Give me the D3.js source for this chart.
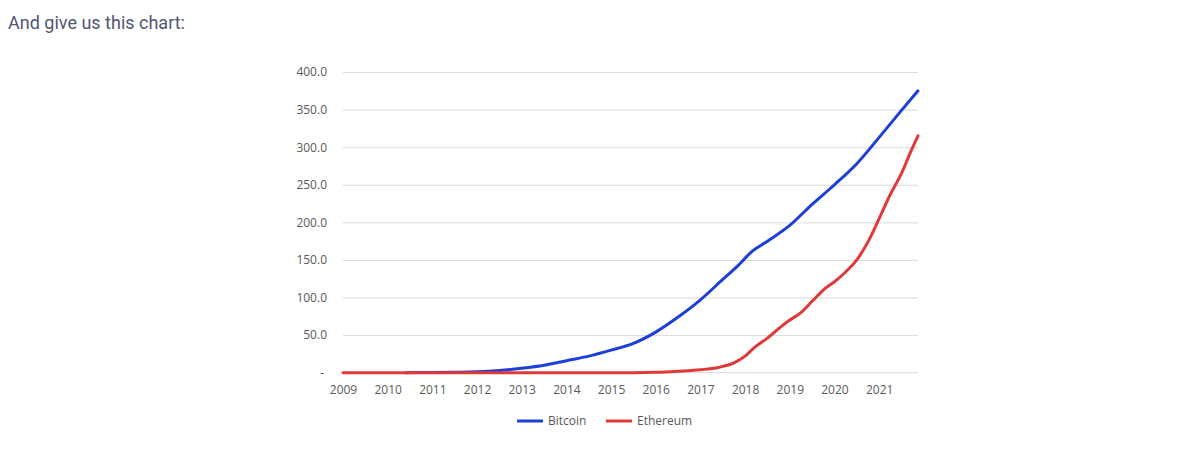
<!DOCTYPE html>
<html lang="en">
<head>
<meta charset="UTF-8">
<title>Bitcoin vs Ethereum</title>
<script src="https://d3js.org/d3.v7.min.js"></script>
<style>
body { margin: 0; background: #fff; }
.intro {
    position: absolute; left: 8px; top: 12px;
    font-family: Roboto, sans-serif; font-size: 18px; color: #505671;
}
.axis text { font-family: "Open Sans", sans-serif; font-size: 12px; fill: #595959; }
.axis path, .axis line { display: none; }
.grid line { stroke: #d9d9d9; stroke-width: 1; }
.grid path { display: none; }
.legend text { font-family: "Open Sans", sans-serif; font-size: 12px; fill: #595959; }
</style>
</head>
<body>
<div class="intro">And give us this chart:</div>
<script>
// years and cumulative values
var years = [2009, 2010, 2011, 2012, 2013, 2014, 2015, 2016, 2017, 2018, 2019, 2020, 2021];
var yTicks = [0, 50, 100, 150, 200, 250, 300, 350, 400];

var btcT = [2010.4, 2011, 2011.5, 2012, 2012.5, 2013, 2013.5, 2014, 2014.5, 2015, 2015.5, 2016, 2016.5, 2017, 2017.5, 2017.8, 2018.15, 2018.5, 2019, 2019.5, 2020, 2020.5, 2021, 2021.5, 2021.87];
var btcV = [0, 0.3, 0.6, 1.2, 3, 6, 10, 16, 22, 30, 39, 54, 74, 97, 124, 140, 161, 175, 196, 224, 250, 278, 313, 349, 375];

var ethT = [2009, 2012, 2015.5, 2016, 2016.5, 2017, 2017.4, 2017.75, 2018, 2018.2, 2018.5, 2018.8, 2019, 2019.25, 2019.5, 2019.75, 2020, 2020.25, 2020.5, 2020.75, 2021, 2021.25, 2021.5, 2021.7, 2021.87];
var ethV = [0, 0, 0, 0.5, 2, 4, 7, 13, 22, 33, 46, 61, 70, 80, 95, 110, 121, 134, 150, 174, 205, 237, 265, 293, 315];

var width = 1180, height = 460;
var svg = d3.select('body').append('svg')
    .attr('width', width).attr('height', height)
    .style('position', 'absolute').style('left', 0).style('top', 0);

var x = d3.scaleLinear().domain([2009, 2021.87]).range([343, 918]);
var y = d3.scaleLinear().domain([0, 400]).range([372.7, 72]);

// gridlines
svg.append('g').attr('class', 'grid')
    .attr('transform', 'translate(343,0)')
    .call(d3.axisLeft(y).tickValues(yTicks.slice(1)).tickSize(-575).tickFormat(''));
// baseline
svg.append('line')
    .attr('x1', 343).attr('x2', 918).attr('y1', y(0)).attr('y2', y(0))
    .attr('stroke', '#d9d9d9');

// y axis labels
svg.append('g').attr('class', 'axis')
    .attr('transform', 'translate(335,0)')
    .call(d3.axisLeft(y).tickValues(yTicks).tickSize(0).tickPadding(8)
        .tickFormat(function(d){ return d === 0 ? '-' : d3.format('.1f')(d); }))
    .selectAll('text')
    .attr('dx', function(d){ return d === 0 ? -3 : 0; });

// x axis labels
svg.append('g').attr('class', 'axis')
    .attr('transform', 'translate(0,' + y(0) + ')')
    .call(d3.axisBottom(x).tickValues(years).tickSize(0).tickPadding(13).tickFormat(d3.format('d')));

var line = d3.line()
    .x(function(d){ return x(d[0]); })
    .y(function(d){ return y(d[1]); })
    .curve(d3.curveMonotoneX);

svg.append('path')
    .datum(d3.zip(btcT, btcV))
    .attr('d', line)
    .attr('fill', 'none').attr('stroke', '#1c3fd8').attr('stroke-width', 3)
    .attr('stroke-linecap', 'round');

svg.append('path')
    .datum(d3.zip(ethT, ethV))
    .attr('d', line)
    .attr('fill', 'none').attr('stroke', '#e0393a').attr('stroke-width', 3)
    .attr('stroke-linecap', 'round');

// legend
var legend = svg.append('g').attr('class', 'legend');
var items = [
    {name: 'Bitcoin', color: '#1c3fd8', x: 517},
    {name: 'Ethereum', color: '#e0393a', x: 606}
];
items.forEach(function(it){
    legend.append('line')
        .attr('x1', it.x).attr('x2', it.x + 26)
        .attr('y1', 421).attr('y2', 421)
        .attr('stroke', it.color).attr('stroke-width', 3);
    legend.append('text')
        .attr('x', it.x + 31).attr('y', 425)
        .text(it.name);
});
</script>
</body>
</html>
